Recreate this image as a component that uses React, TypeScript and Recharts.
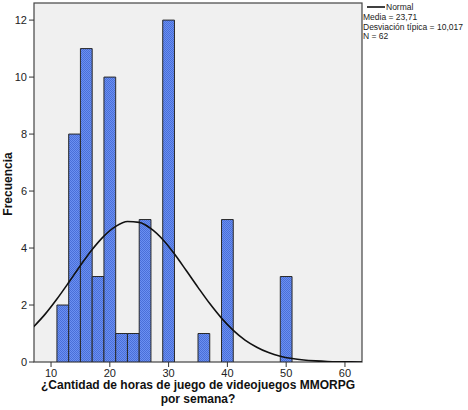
import React from "react"
import { ComposedChart, Bar, Line, XAxis, YAxis, usePlotArea } from "recharts"

// bin centres (width 2) and their counts
const binCenters = [12, 14, 16, 18, 20, 22, 24, 26, 30, 36, 40, 50]
const binCounts = [2, 8, 11, 3, 10, 1, 1, 5, 12, 1, 5, 3]

// normal curve
const curveX = [7, 9, 11, 13, 15, 17, 19, 21, 23, 25, 27, 29, 31, 33, 35, 37, 39, 41, 43, 45, 47, 49, 51, 53, 55, 57, 59, 61, 63]
const curveY = [1.23, 1.68, 2.21, 2.79, 3.39, 3.95, 4.42, 4.76, 4.93, 4.9, 4.68, 4.3, 3.79, 3.21, 2.62, 2.05, 1.54, 1.11, 0.77, 0.52, 0.33, 0.2, 0.12, 0.07, 0.04, 0.02, 0.01, 0.005, 0.002]

const xTicks = [10, 20, 30, 40, 50, 60]
const yTicks = [0, 2, 4, 6, 8, 10, 12]

const stats = ["Media = 23,71", "Desviación típica = 10,017", "N = 62"]

const barData = binCenters.map((x, i) => ({ x, count: binCounts[i] }))
const curveData = curveX.map((x, i) => ({ x, normal: curveY[i] }))

const W = 468
const H = 410
const M = { top: 3, right: 106, bottom: 28, left: 0 }
const X_DOMAIN = [7.1, 62.9]
const font = "Arial, 'Liberation Sans', sans-serif"

const PlotRect = ({ fill, stroke }: any) => {
  const area = usePlotArea()
  if (!area) return null
  return (
    <rect x={area.x} y={area.y} width={area.width} height={area.height} fill={fill} stroke={stroke} strokeWidth={1.2} />
  )
}

export default function App() {
  return (
    <div style={{ position: "absolute", left: 0, top: 0, width: W, height: H, background: "#fff", fontFamily: font }}>
      <ComposedChart width={W} height={H} margin={M} data={barData}>
        <defs>
          <pattern id="dots" width="2" height="2" patternUnits="userSpaceOnUse">
            <rect width="2" height="2" fill="#6b90f2" />
            <rect width="1" height="1" fill="#4a6fd8" />
            <rect x="1" y="1" width="1" height="1" fill="#4a6fd8" />
          </pattern>
        </defs>
        <PlotRect fill="#f0f0f0" stroke="none" />
        <XAxis
          dataKey="x"
          type="number"
          domain={X_DOMAIN}
          ticks={xTicks}
          allowDataOverflow
          axisLine={false}
          tickLine={{ stroke: "#333" }}
          tickSize={5}
          tick={{ fill: "#222", fontSize: 11, fontFamily: font }}
          height={20}
        />
        <XAxis
          xAxisId="curve"
          dataKey="x"
          type="number"
          domain={X_DOMAIN}
          allowDataOverflow
          hide
        />
        <YAxis
          type="number"
          domain={[0, 12.6]}
          ticks={yTicks}
          allowDataOverflow
          axisLine={false}
          tickLine={{ stroke: "#333" }}
          tickSize={5}
          tick={{ fill: "#222", fontSize: 11, fontFamily: font }}
          width={34}
        />
        <Bar
          dataKey="count"
          barSize={11.75}
          fill="url(#dots)"
          stroke="#2a2a2a"
          strokeWidth={1}
          isAnimationActive={false}
        />
        <Line
          xAxisId="curve"
          data={curveData}
          dataKey="normal"
          type="monotone"
          stroke="#111"
          strokeWidth={1.6}
          dot={false}
          isAnimationActive={false}
        />
        <PlotRect fill="none" stroke="#444" />
      </ComposedChart>
      <svg width={W} height={H} style={{ position: "absolute", left: 0, top: 0, pointerEvents: "none" }}>
        <text
          x={12}
          y={184}
          transform="rotate(-90 12 184)"
          textAnchor="middle"
          fontSize={12}
          fontWeight="bold"
          fontFamily={font}
          fill="#111"
        >
          Frecuencia
        </text>
        <text x={198} y={389} textAnchor="middle" fontSize={12} fontWeight="bold" fontFamily={font} fill="#111">
          ¿Cantidad de horas de juego de videojuegos MMORPG
        </text>
        <text x={198} y={403} textAnchor="middle" fontSize={12} fontWeight="bold" fontFamily={font} fill="#111">
          por semana?
        </text>
        <line x1={367} y1={7} x2={385} y2={7} stroke="#111" strokeWidth={1.6} />
        <text x={386} y={10} fontSize={8.5} fontFamily={font} fill="#222">
          Normal
        </text>
        {stats.map((s, i) => (
          <text key={s} x={363} y={20 + i * 9.5} fontSize={8.5} fontFamily={font} fill="#222">
            {s}
          </text>
        ))}
      </svg>
    </div>
  )
}
